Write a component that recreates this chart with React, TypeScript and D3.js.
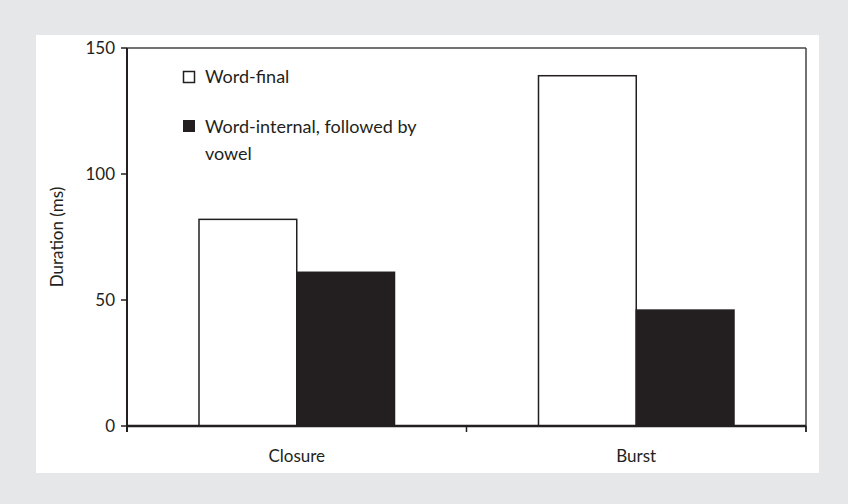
import { scaleBand, scaleLinear } from "d3"

const categories = ["Closure", "Burst"]
const series = ["Word-final", "Word-internal, followed by vowel"]
const wordFinal = [82, 139]
const wordInternal = [61, 46]
const yTicks = [0, 50, 100, 150]

const W = 848
const H = 504
const ink = "#231f20"
const font = "Lato, 'Open Sans', sans-serif"

const App = () => {
  const left = 127
  const right = 806
  const top = 48
  const bottom = 426

  const xScale = scaleBand().domain(categories).range([left, right]).padding(0)
  const inner = scaleBand().domain(series).range([72, xScale.bandwidth() - 72]).padding(0)
  const yScale = scaleLinear().domain([0, 150]).range([bottom, top])

  const values = [wordFinal, wordInternal]
  const fills = ["#fff", ink]

  const bars = series.map((s, si) =>
    categories.map((c, ci) => {
      const v = values[si][ci]
      return (
        <rect
          key={s + c}
          x={xScale(c) + inner(s)}
          y={yScale(v)}
          width={inner.bandwidth()}
          height={bottom - yScale(v)}
          fill={fills[si]}
          stroke={ink}
          strokeWidth={1.5}
        />
      )
    })
  )

  const xTickPos = [...categories.map(c => xScale(c)), right]

  return (
    <div style={{ position: "fixed", left: 0, top: 0 }}>
      <svg width={W} height={H} viewBox={`0 0 ${W} ${H}`} fontFamily={font}>
        <rect x={0} y={0} width={W} height={H} fill="#e6e7e8" />
        <rect x={36} y={35} width={783} height={438} fill="#fff" />

        {/* frame top and right */}
        <line x1={left} x2={right} y1={top} y2={top} stroke="#444" strokeWidth={1.5} />
        <line x1={right} x2={right} y1={top} y2={bottom + 6} stroke="#444" strokeWidth={1.5} />

        {bars}

        {/* y axis */}
        <line x1={left} x2={left} y1={top} y2={bottom + 6} stroke={ink} strokeWidth={2} />
        {yTicks.map(t => (
          <g key={t}>
            <line x1={left - 6} x2={left} y1={yScale(t)} y2={yScale(t)} stroke={ink} strokeWidth={1.5} />
            <text x={left - 12} y={yScale(t)} dy="0.35em" textAnchor="end" fontSize={17} fill={ink}>
              {t}
            </text>
          </g>
        ))}

        {/* x axis */}
        <line x1={left} x2={right} y1={bottom} y2={bottom} stroke={ink} strokeWidth={2.5} />
        {xTickPos.map((p, i) => (
          <line key={i} x1={p} x2={p} y1={bottom} y2={bottom + 6} stroke={ink} strokeWidth={1.5} />
        ))}
        {categories.map(c => (
          <text key={c} x={xScale(c) + xScale.bandwidth() / 2} y={462} textAnchor="middle" fontSize={17} fill={ink}>
            {c}
          </text>
        ))}

        <text
          transform={`translate(57, ${(top + bottom) / 2}) rotate(-90)`}
          dy="0.35em"
          textAnchor="middle"
          fontSize={17}
          fill={ink}
        >
          Duration (ms)
        </text>

        {/* legend */}
        <rect x={183.5} y={71.5} width={11} height={11} fill="#fff" stroke={ink} strokeWidth={1.5} />
        <text x={205} y={83} fontSize={18} fill={ink}>{series[0]}</text>
        <rect x={183} y={120} width={12} height={12} fill={ink} />
        <text x={205} y={133} fontSize={18} fill={ink}>
          <tspan x={205}>Word-internal, followed by</tspan>
          <tspan x={205} dy={27}>vowel</tspan>
        </text>
      </svg>
    </div>
  )
}

export default App
